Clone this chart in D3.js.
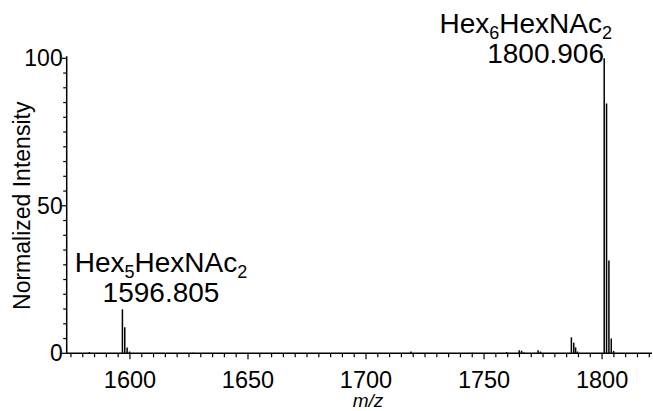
<!DOCTYPE html>
<html>
<head>
<meta charset="utf-8">
<script src="https://cdn.jsdelivr.net/npm/d3@7/dist/d3.min.js"></script>
<style>
  html, body { margin: 0; padding: 0; background: #fff; }
  svg { display: block; font-family: "Liberation Sans", Arial, sans-serif; }
</style>
</head>
<body>
<svg id="chart" width="653" height="411"></svg>
<script>
// Peak list: m/z and normalized intensity (%)
const peakMz = [1582.8, 1596.805, 1597.8, 1598.8, 1599.8, 1626.7, 1719.0, 1745.0,
  1759.6, 1764.9, 1765.9, 1766.9, 1772.9, 1773.9, 1787.0, 1788.0, 1788.8, 1789.6,
  1800.906, 1801.9, 1802.9, 1803.9, 1804.9];
const peakIntensity = [0.4, 14.9, 8.8, 2.0, 0.6, 0.2, 0.6, 0.2,
  0.4, 1.0, 0.9, 0.3, 1.0, 0.6, 5.4, 3.6, 2.0, 0.6,
  100, 84.7, 31.5, 5.0, 0.8];

// Annotated peaks
const annotMz = [1596.805, 1800.906];
const annotComp = [[5, 2], [6, 2]];   // Hex count, HexNAc count
const annotLabel = ["1596.805", "1800.906"];

const xMajorTicks = [1600, 1650, 1700, 1750, 1800];
const yMajorTicks = [0, 50, 100];

const svg = d3.select("#chart");
const x = d3.scaleLinear().domain([1573.2, 1822]).range([66.7, 654]);
const y = d3.scaleLinear().domain([0, 100]).range([353.3, 58.3]);

const axisColor = "#000";

// peaks
svg.append("g").selectAll("line").data(peakMz).join("line")
  .attr("x1", d => x(d)).attr("x2", d => x(d))
  .attr("y1", y(0))
  .attr("y2", (d, i) => y(peakIntensity[i]))
  .attr("stroke", "#000").attr("stroke-width", 1.5);

// x axis
const xAxis = svg.append("g").attr("transform", `translate(0,${y(0)})`);
xAxis.append("line").attr("x1", x.range()[0]).attr("x2", 652)
  .attr("stroke", axisColor).attr("stroke-width", 1.5);
const xMinor = d3.range(1575, 1821, 5);
xAxis.selectAll("line.tick").data(xMinor).join("line").attr("class", "tick")
  .attr("x1", d => x(d)).attr("x2", d => x(d))
  .attr("y1", 0).attr("y2", d => xMajorTicks.includes(d) ? 6 : 4)
  .attr("stroke", axisColor).attr("stroke-width", 1.2);
xAxis.selectAll("text").data(xMajorTicks).join("text")
  .attr("x", d => x(d)).attr("y", 35)
  .attr("text-anchor", "middle").attr("font-size", 23.5).text(d => d);

// y axis
const yAxis = svg.append("g").attr("transform", `translate(${x.range()[0]},0)`);
yAxis.append("line").attr("y1", y(0)).attr("y2", y(100) - 2)
  .attr("stroke", axisColor).attr("stroke-width", 1.5);
const yMinor = d3.range(0, 101, 5);
yAxis.selectAll("line.tick").data(yMinor).join("line").attr("class", "tick")
  .attr("y1", d => y(d)).attr("y2", d => y(d))
  .attr("x1", 0).attr("x2", d => yMajorTicks.includes(d) ? -5 : -3.5)
  .attr("stroke", axisColor).attr("stroke-width", 1.2);
yAxis.selectAll("text").data(yMajorTicks).join("text")
  .attr("x", -4).attr("y", d => y(d) + 8)
  .attr("text-anchor", "end").attr("font-size", 23).text(d => d);

// axis titles
svg.append("text")
  .attr("transform", `translate(30,${(y(0) + y(100)) / 2}) rotate(-90)`)
  .attr("text-anchor", "middle").attr("font-size", 23).text("Normalized Intensity");
svg.append("text").attr("x", 368).attr("y", 407)
  .attr("text-anchor", "middle").attr("font-size", 19).attr("font-style", "italic")
  .text("m/z");

// peak annotations: composition line above the m/z value
const annotLayout = [
  { x: 161, y: 272, anchor: "middle", numX: 161 },
  { x: 612, y: 33, anchor: "end", numX: 604 }
];
annotMz.forEach((mz, i) => {
  const L = annotLayout[i];
  const t = svg.append("text").attr("x", L.x).attr("y", L.y)
    .attr("text-anchor", L.anchor).attr("font-size", 28);
  t.append("tspan").text("Hex");
  t.append("tspan").attr("font-size", 18).attr("dy", 6).text(annotComp[i][0]);
  t.append("tspan").attr("dy", -6).text("HexNAc");
  t.append("tspan").attr("font-size", 18).attr("dy", 6).text(annotComp[i][1]);
  svg.append("text").attr("x", L.numX).attr("y", L.y + 30)
    .attr("text-anchor", L.anchor).attr("font-size", 28).text(annotLabel[i]);
});
</script>
</body>
</html>
